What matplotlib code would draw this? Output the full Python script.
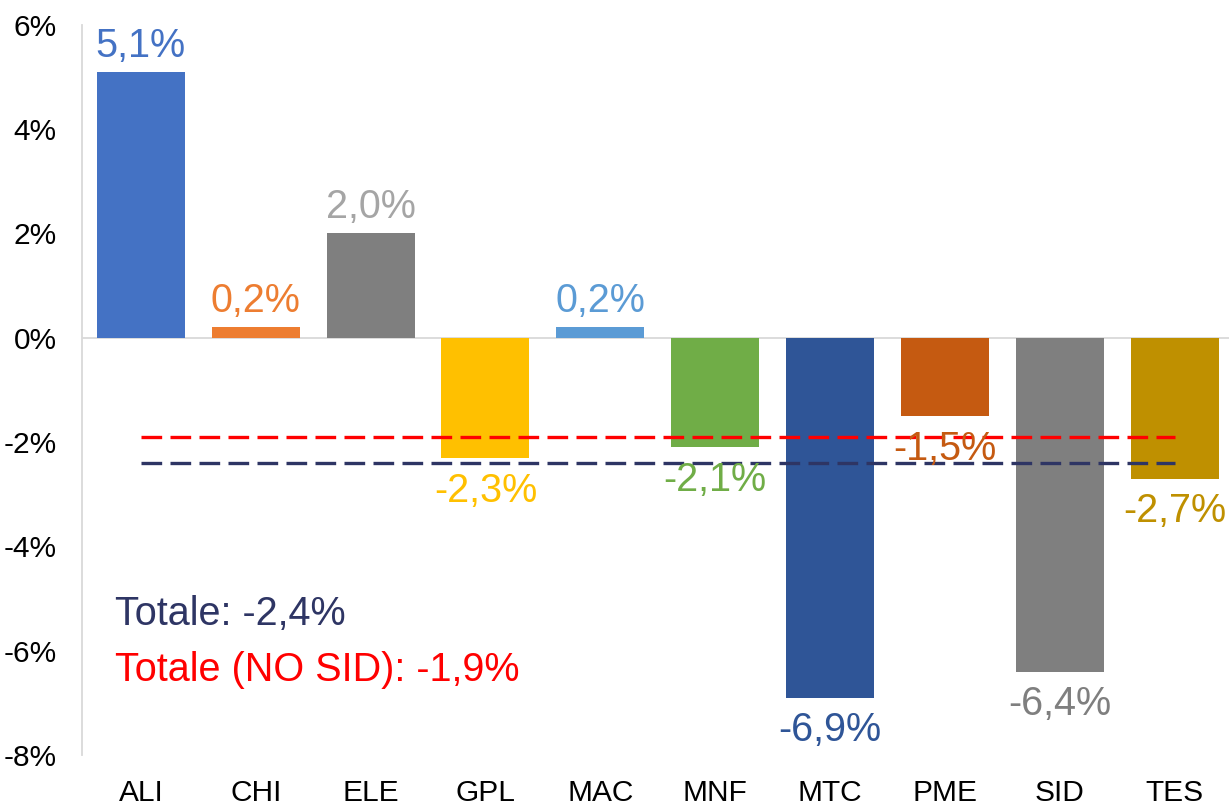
import matplotlib.pyplot as plt
import numpy as np

# ======================
# DATA
# ======================
categories = ['ALI', 'CHI', 'ELE', 'GPL', 'MAC', 'MNF', 'MTC', 'PME', 'SID', 'TES']
values = [5.1, 0.2, 2.0, -2.3, 0.2, -2.1, -6.9, -1.5, -6.4, -2.7]
bar_colors = ['#4472C4', '#ED7D31', '#7F7F7F', '#FFC000', '#5B9BD5',
              '#70AD47', '#2F5597', '#C55A11', '#7F7F7F', '#BF9000']
label_colors = ['#4472C4', '#ED7D31', '#A5A5A5', '#FFC000', '#5B9BD5',
                '#70AD47', '#2F5597', '#C55A11', '#7F7F7F', '#BF9000']
total_all = -2.4
total_no_sid = -1.9
y_ticks = [-8, -6, -4, -2, 0, 2, 4, 6]

plt.rcParams['font.family'] = ['Liberation Sans', 'DejaVu Sans']

# ======================
# FIGURE
# ======================
fig = plt.figure(figsize=(12.29, 8.06), dpi=100)
ax = fig.add_axes([0.0667, 0.0633, 0.933, 0.906])

x = np.arange(len(categories))
ax.bar(x, values, width=0.766, color=bar_colors, zorder=2)

# value labels
for xi, v, c in zip(x, values, label_colors):
    txt = f"{v:.1f}%".replace('.', ',')
    if v >= 0:
        ax.annotate(txt, (xi, v), xytext=(0, 5), textcoords='offset points',
                    ha='center', va='bottom', fontsize=28.5, color=c, zorder=4)
    else:
        ax.annotate(txt, (xi, v), xytext=(0, -10), textcoords='offset points',
                    ha='center', va='top', fontsize=28.5, color=c, zorder=4)

# average lines
ax.hlines(total_no_sid, 0, len(categories) - 1, colors='#FF0000', lw=2.4,
          linestyles=(0, (6.2, 2.5)), zorder=3)
ax.hlines(total_all, 0, len(categories) - 1, colors='#2E3564', lw=2.4,
          linestyles=(0, (6.2, 2.5)), zorder=3)

ax.text(-0.226, -5.3, f"Totale: {total_all:.1f}%".replace('.', ','),
        fontsize=28.5, color='#2E3564', ha='left', va='center')
ax.text(-0.226, -6.38, f"Totale (NO SID): {total_no_sid:.1f}%".replace('.', ','),
        fontsize=28.5, color='#FF0000', ha='left', va='center')

# ======================
# AXES
# ======================
ax.set_xlim(-0.513, 9.47)
ax.set_ylim(-8, 6)
ax.set_yticks(y_ticks)
ax.set_yticklabels([f"{t}%" for t in y_ticks], fontsize=21.5)
ax.set_xticks(x)
ax.set_xticklabels(categories, fontsize=21.5)
ax.tick_params(axis='y', length=0, pad=18)
ax.tick_params(axis='x', length=0, pad=17)
ax.axhline(0, color='#D9D9D9', lw=1.3, zorder=1)
for s in ['top', 'right', 'bottom']:
    ax.spines[s].set_visible(False)
ax.spines['left'].set_color('#D9D9D9')
ax.spines['left'].set_linewidth(1.3)

fig.savefig('out.png', dpi=100)
